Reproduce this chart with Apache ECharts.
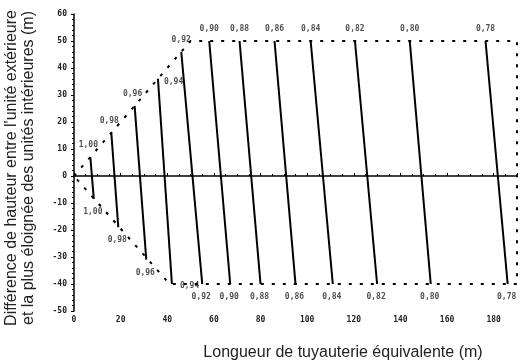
<!DOCTYPE html>
<html>
<head>
<meta charset="utf-8">
<script src="https://cdn.jsdelivr.net/npm/echarts@6/dist/echarts.min.js"></script>
<style>
html,body{margin:0;padding:0;background:#fff;}
#chart{width:521px;height:363px;}
</style>
</head>
<body>
<div id="chart"></div>
<script>
// coefficients de capacité et extrémités des droites (longueur m, hauteur m)
var coefLabels   = ['1,00','0,98','0,96','0,94','0,92','0,90','0,88','0,86','0,84','0,82','0,80','0,78'];
var topLength    = [7, 16, 26, 36, 46, 58, 71, 86, 101.5, 120.5, 144, 176.5];
var topHeight    = [7, 16, 26, 36, 46, 50, 50, 50, 50, 50, 50, 50];
var bottomLength = [8.5, 19, 31, 42, 55, 67, 80, 95, 111, 130, 153, 186];
var bottomHeight = [-8.5, -19, -31, -40, -40, -40, -40, -40, -40, -40, -40, -40];
// contour en pointillés de la zone admissible
var limitLength  = [0, 50, 190, 190, 41, 0];
var limitHeight  = [0, 50, 50, -40, -40, 0];

var Chart_1 = echarts.init(document.getElementById('chart'));

var labelFont = {
    fontFamily: 'DejaVu Sans Mono',
    fontWeight: 'bold',
    fontSize: 8,
    color: '#222'
};

var series = [];
for (var i = 0; i < coefLabels.length; i++) {
    series.push({
        type: 'line',
        symbol: 'none',
        silent: true,
        lineStyle: {color: '#000', width: 2},
        data: [[topLength[i], topHeight[i]], [bottomLength[i], bottomHeight[i]]]
    });
}

var limitData = [];
for (var j = 0; j < limitLength.length; j++) {
    limitData.push([limitLength[j], limitHeight[j]]);
}
series.push({
    type: 'line',
    symbol: 'none',
    silent: true,
    lineStyle: {color: '#000', width: 2, type: [3, 8]},
    data: limitData
});

// étiquettes des coefficients
var labelData = [];
for (var k = 0; k < coefLabels.length; k++) {
    var topLab = {position: 'top', distance: 8, offset: [k < 3 ? -2 : 0, 0]};
    var botLab = {position: 'bottom', distance: 9, offset: [-1, 0]};
    if (coefLabels[k] == '0,94') {
        topLab = {position: 'right', distance: 6, offset: [0, 3]};
        botLab = {position: 'right', distance: 8, offset: [0, 2]};
    }
    labelData.push({value: [topLength[k], topHeight[k]], name: coefLabels[k], label: topLab});
    labelData.push({value: [bottomLength[k], bottomHeight[k]], name: coefLabels[k], label: botLab});
}
series.push({
    type: 'scatter',
    symbolSize: 0,
    silent: true,
    label: {
        show: true,
        formatter: '{b}',
        fontFamily: labelFont.fontFamily,
        fontWeight: labelFont.fontWeight,
        fontSize: labelFont.fontSize,
        color: labelFont.color
    },
    data: labelData
});

var option = {
    animation: false,
    backgroundColor: '#fff',
    grid: {left: 74, right: 4, top: 14, bottom: 52},
    xAxis: {
        type: 'value',
        min: 0,
        max: 190,
        interval: 20,
        axisLine: {onZero: true, lineStyle: {color: '#000', width: 1.5}},
        axisTick: {show: true, inside: true, length: 3, lineStyle: {color: '#000'}},
        minorTick: {show: true, splitNumber: 4, length: 2, lineStyle: {color: '#000'}},
        splitLine: {show: false},
        axisLabel: {
            showMaxLabel: false,
            margin: 5,
            fontFamily: labelFont.fontFamily,
            fontWeight: 'bold',
            fontSize: 8,
            color: '#222'
        }
    },
    yAxis: {
        type: 'value',
        min: -50,
        max: 60,
        interval: 10,
        axisLine: {show: true, lineStyle: {color: '#000', width: 1.5}},
        axisTick: {show: true, length: 3, lineStyle: {color: '#000'}},
        minorTick: {show: true, splitNumber: 5, length: 2, lineStyle: {color: '#000'}},
        splitLine: {show: false},
        axisLabel: {
            margin: 7,
            fontFamily: labelFont.fontFamily,
            fontWeight: 'bold',
            fontSize: 8,
            color: '#222'
        }
    },
    graphic: [
        {
            type: 'text',
            x: 20,
            y: 168,
            rotation: Math.PI / 2,
            style: {
                text: "Différence de hauteur entre l'unité extérieure\net la plus éloignée des unités intérieures (m)",
                font: '16px "Liberation Sans", Arial, sans-serif',
                lineHeight: 17,
                fill: '#222',
                align: 'center',
                verticalAlign: 'middle'
            }
        },
        {
            type: 'text',
            x: 343,
            y: 353,
            style: {
                text: 'Longueur de tuyauterie équivalente (m)',
                font: '16px "Liberation Sans", Arial, sans-serif',
                fill: '#222',
                align: 'center',
                verticalAlign: 'middle'
            }
        }
    ],
    series: series
};

Chart_1.setOption(option);
</script>
</body>
</html>
